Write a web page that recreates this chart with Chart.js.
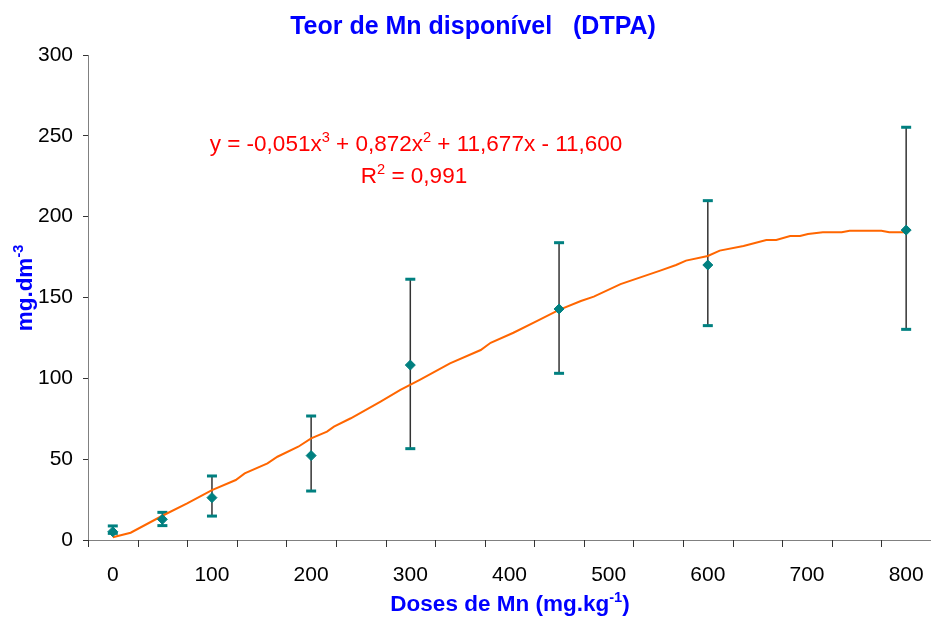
<!DOCTYPE html>
<html>
<head>
<meta charset="utf-8">
<script src="https://cdn.jsdelivr.net/npm/chart.js@4.4.1/dist/chart.umd.min.js"></script>
<style>
  html, body { margin: 0; padding: 0; background: #fff; overflow: hidden; }
  #wrap { width: 931px; height: 619px; position: relative; }
  canvas { display: block; }
</style>
</head>
<body>
<div id="wrap"><canvas id="myChart"></canvas></div>
<script>
// doses and mean Mn content with error bar limits
const doses = [0, 50, 100, 200, 300, 450, 600, 800];
const teorMn = [5.1, 12.8, 26.2, 52.2, 108.2, 142.9, 170.1, 191.7];
const barTop = [8.7, 17.1, 39.6, 76.7, 161.3, 183.9, 209.9, 255.3];
const barBottom = [4.1, 8.9, 14.8, 30.3, 56.5, 103.1, 132.6, 130.3];

// trend line
const trendX = [0, 18, 50, 75, 100, 124, 133, 156, 166, 187, 200, 216, 223, 240, 270, 290, 310, 340, 371, 381, 404, 428, 450, 472, 485, 512, 552, 568, 578, 600, 612, 636, 659, 669, 683, 693, 701, 716, 735, 743, 775, 783, 800];
const trendY = [1.7, 4.5, 15, 22.7, 30.9, 37.1, 41.2, 47.4, 51.5, 57.7, 62.9, 67, 70.1, 75.3, 85.6, 92.8, 99.2, 109.3, 117.5, 122, 128.2, 135.5, 142.3, 147.8, 150.5, 158.3, 166.6, 170.1, 172.8, 175.7, 179, 181.9, 185.6, 185.6, 188, 188, 189.3, 190.3, 190.3, 191.3, 191.3, 190.3, 190.3];

const xTicks = [0, 100, 200, 300, 400, 500, 600, 700, 800];
const yTicks = [0, 50, 100, 150, 200, 250, 300];

const FONT = '"Liberation Sans", Arial, sans-serif';

function drawRich(ctx, parts, x, y, size, bold, color) {
  const f = s => (bold ? 'bold ' : '') + s + 'px ' + FONT;
  let w = 0;
  parts.forEach(p => {
    ctx.font = f(p[1] ? size * 0.65 : size);
    w += ctx.measureText(p[0]).width;
  });
  let cx = x - w / 2;
  ctx.fillStyle = color;
  ctx.textAlign = 'left';
  ctx.textBaseline = 'alphabetic';
  parts.forEach(p => {
    ctx.font = f(p[1] ? size * 0.65 : size);
    ctx.fillText(p[0], cx, p[1] ? y - size * 0.42 : y);
    cx += ctx.measureText(p[0]).width;
  });
}

const errorBars = {
  id: 'errorBars',
  beforeDatasetsDraw(chart) {
    const {ctx, scales: {x, y}} = chart;
    ctx.save();
    doses.forEach((d, i) => {
      const px = x.getPixelForValue(d);
      const top = y.getPixelForValue(barTop[i]);
      const bot = y.getPixelForValue(barBottom[i]);
      ctx.strokeStyle = '#333';
      ctx.lineWidth = 1.5;
      ctx.beginPath();
      ctx.moveTo(px, top);
      ctx.lineTo(px, bot);
      ctx.stroke();
      ctx.fillStyle = '#008080';
      ctx.fillRect(px - 5, top - 1.5, 10, 3);
      ctx.fillRect(px - 5, bot - 1.5, 10, 3);
    });
    ctx.restore();
  }
};

const extras = {
  id: 'extras',
  afterDraw(chart) {
    const {ctx, chartArea, scales: {x}} = chart;
    ctx.save();
    // minor tick marks between the labels
    ctx.strokeStyle = '#333';
    ctx.lineWidth = 1;
    for (let v = -25; v <= 800; v += 50) {
      const px = Math.round(x.getPixelForValue(v)) + 0.5;
      ctx.beginPath();
      ctx.moveTo(px, chartArea.bottom);
      ctx.lineTo(px, chartArea.bottom + 7);
      ctx.stroke();
    }
    // axis line carried on to the right edge, as in the original
    ctx.strokeStyle = '#808080';
    ctx.beginPath();
    ctx.moveTo(chartArea.right, chartArea.bottom + 0.5);
    ctx.lineTo(chart.width, chartArea.bottom + 0.5);
    ctx.stroke();
    // titles
    drawRich(ctx, [['Teor de Mn disponível   (DTPA)']], 473, 34, 25, true, '#0000FF');
    drawRich(ctx, [['Doses de Mn (mg.kg'], ['-1', true], [')']], 510, 611, 22.5, true, '#0000FF');
    ctx.save();
    ctx.translate(32, 288);
    ctx.rotate(-Math.PI / 2);
    drawRich(ctx, [['mg.dm'], ['-3', true]], 0, 0, 22.5, true, '#0000FF');
    ctx.restore();
    // equation
    drawRich(ctx, [['y = -0,051x'], ['3', true], [' + 0,872x'], ['2', true], [' + 11,677x - 11,600']], 416, 151, 22.5, false, '#FF0000');
    drawRich(ctx, [['R'], ['2', true], [' = 0,991']], 414, 183, 22.5, false, '#FF0000');
    ctx.restore();
  }
};

new Chart(document.getElementById('myChart'), {
  type: 'scatter',
  data: {
    datasets: [{
      label: 'Teor de Mn',
      data: doses.map((d, i) => ({x: d, y: teorMn[i]})),
      pointStyle: 'rectRot',
      pointRadius: 5,
      borderWidth: 1,
      backgroundColor: '#008080',
      borderColor: '#008080',
      showLine: false
    }, {
      label: 'Polinomial',
      data: trendX.map((d, i) => ({x: d, y: trendY[i]})),
      showLine: true,
      pointRadius: 0,
      borderColor: '#FF6600',
      borderWidth: 2,
      tension: 0
    }]
  },
  options: {
    responsive: true,
    maintainAspectRatio: false,
    animation: false,
    layout: { padding: { top: 55, right: 0, bottom: 0, left: 0 } },
    plugins: {
      legend: { display: false },
      tooltip: { enabled: false },
      title: { display: false }
    },
    scales: {
      x: {
        type: 'linear',
        min: -25,
        max: 819,
        afterBuildTicks: s => { s.ticks = xTicks.map(v => ({value: v})); },
        ticks: { font: { family: FONT, size: 21 }, color: '#000', padding: 23, maxRotation: 0, autoSkip: false },
        grid: { display: true, drawOnChartArea: false, drawTicks: false },
        border: { color: '#808080', width: 1 },
        afterFit: s => { s.height = 79; s.paddingLeft = 0; s.paddingRight = 0; }
      },
      y: {
        min: 0,
        max: 300,
        afterBuildTicks: s => { s.ticks = yTicks.map(v => ({value: v})); },
        ticks: { font: { family: FONT, size: 21 }, color: '#000', padding: 10 },
        grid: { drawOnChartArea: false, tickLength: 5, tickColor: '#333' },
        border: { color: '#808080', width: 1 },
        afterFit: s => { s.width = 88; }
      }
    }
  },
  plugins: [errorBars, extras]
});
</script>
</body>
</html>
